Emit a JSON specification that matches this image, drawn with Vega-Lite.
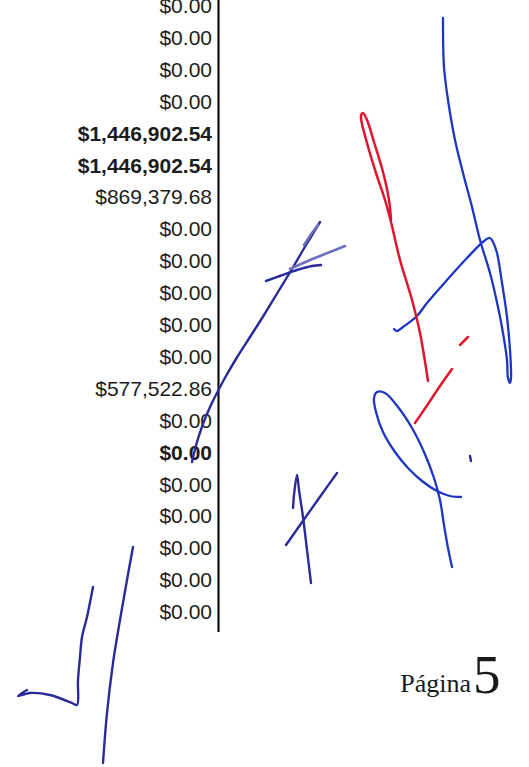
{
  "$schema": "https://vega.github.io/schema/vega-lite/v6.json",
  "width": 529,
  "height": 767,
  "padding": 0,
  "autosize": {"type": "none"},
  "background": "white",
  "config": {"view": {"stroke": null}},
  "datasets": {
    "rows": [
      {"row": 0, "label": "$0.00", "bold": false},
      {"row": 1, "label": "$0.00", "bold": false},
      {"row": 2, "label": "$0.00", "bold": false},
      {"row": 3, "label": "$0.00", "bold": false},
      {"row": 4, "label": "$1,446,902.54", "bold": true},
      {"row": 5, "label": "$1,446,902.54", "bold": true},
      {"row": 6, "label": "$869,379.68", "bold": false},
      {"row": 7, "label": "$0.00", "bold": false},
      {"row": 8, "label": "$0.00", "bold": false},
      {"row": 9, "label": "$0.00", "bold": false},
      {"row": 10, "label": "$0.00", "bold": false},
      {"row": 11, "label": "$0.00", "bold": false},
      {"row": 12, "label": "$577,522.86", "bold": false},
      {"row": 13, "label": "$0.00", "bold": false},
      {"row": 14, "label": "$0.00", "bold": true},
      {"row": 15, "label": "$0.00", "bold": false},
      {"row": 16, "label": "$0.00", "bold": false},
      {"row": 17, "label": "$0.00", "bold": false},
      {"row": 18, "label": "$0.00", "bold": false},
      {"row": 19, "label": "$0.00", "bold": false}
    ],
    "ink": [
      {"s": "A", "ink": "blue", "i": 0, "x": 443, "y": 18},
      {"s": "A", "ink": "blue", "i": 1, "x": 444, "y": 67},
      {"s": "A", "ink": "blue", "i": 2, "x": 448, "y": 100},
      {"s": "A", "ink": "blue", "i": 3, "x": 455, "y": 140},
      {"s": "A", "ink": "blue", "i": 4, "x": 463, "y": 173},
      {"s": "A", "ink": "blue", "i": 5, "x": 472, "y": 207},
      {"s": "A", "ink": "blue", "i": 6, "x": 480, "y": 240},
      {"s": "A", "ink": "blue", "i": 7, "x": 490, "y": 273},
      {"s": "A", "ink": "blue", "i": 8, "x": 498, "y": 307},
      {"s": "A", "ink": "blue", "i": 9, "x": 503, "y": 333},
      {"s": "A", "ink": "blue", "i": 10, "x": 507, "y": 360},
      {"s": "A", "ink": "blue", "i": 11, "x": 508, "y": 378},
      {"s": "A", "ink": "blue", "i": 12, "x": 510, "y": 383},
      {"s": "A", "ink": "blue", "i": 13, "x": 511, "y": 378},
      {"s": "A", "ink": "blue", "i": 14, "x": 510, "y": 350},
      {"s": "A", "ink": "blue", "i": 15, "x": 507, "y": 317},
      {"s": "A", "ink": "blue", "i": 16, "x": 502, "y": 283},
      {"s": "A", "ink": "blue", "i": 17, "x": 497, "y": 253},
      {"s": "A", "ink": "blue", "i": 18, "x": 493, "y": 242},
      {"s": "A", "ink": "blue", "i": 19, "x": 490, "y": 238},
      {"s": "A", "ink": "blue", "i": 20, "x": 484, "y": 241},
      {"s": "A", "ink": "blue", "i": 21, "x": 467, "y": 258},
      {"s": "A", "ink": "blue", "i": 22, "x": 447, "y": 280},
      {"s": "A", "ink": "blue", "i": 23, "x": 427, "y": 303},
      {"s": "A", "ink": "blue", "i": 24, "x": 417, "y": 316},
      {"s": "A", "ink": "blue", "i": 25, "x": 403, "y": 327},
      {"s": "A", "ink": "blue", "i": 26, "x": 397, "y": 331},
      {"s": "A", "ink": "blue", "i": 27, "x": 394, "y": 329},

      {"s": "R1", "ink": "red", "i": 0, "x": 428, "y": 381},
      {"s": "R1", "ink": "red", "i": 1, "x": 420, "y": 333},
      {"s": "R1", "ink": "red", "i": 2, "x": 412, "y": 300},
      {"s": "R1", "ink": "red", "i": 3, "x": 400, "y": 260},
      {"s": "R1", "ink": "red", "i": 4, "x": 391, "y": 222},
      {"s": "R1", "ink": "red", "i": 5, "x": 385, "y": 200},
      {"s": "R1", "ink": "red", "i": 6, "x": 376, "y": 173},
      {"s": "R1", "ink": "red", "i": 7, "x": 367, "y": 143},
      {"s": "R1", "ink": "red", "i": 8, "x": 361, "y": 116},
      {"s": "R1", "ink": "red", "i": 9, "x": 363, "y": 113},
      {"s": "R1", "ink": "red", "i": 10, "x": 367, "y": 120},
      {"s": "R1", "ink": "red", "i": 11, "x": 374, "y": 142},
      {"s": "R1", "ink": "red", "i": 12, "x": 383, "y": 172},
      {"s": "R1", "ink": "red", "i": 13, "x": 389, "y": 200},
      {"s": "R1", "ink": "red", "i": 14, "x": 391, "y": 220},

      {"s": "R2", "ink": "red", "i": 0, "x": 460, "y": 345},
      {"s": "R2", "ink": "red", "i": 1, "x": 468, "y": 337},

      {"s": "R3", "ink": "red", "i": 0, "x": 452, "y": 369},
      {"s": "R3", "ink": "red", "i": 1, "x": 440, "y": 386},
      {"s": "R3", "ink": "red", "i": 2, "x": 428, "y": 404},
      {"s": "R3", "ink": "red", "i": 3, "x": 415, "y": 423},

      {"s": "B", "ink": "blue", "i": 0, "x": 461, "y": 497},
      {"s": "B", "ink": "blue", "i": 1, "x": 450, "y": 496},
      {"s": "B", "ink": "blue", "i": 2, "x": 437, "y": 491},
      {"s": "B", "ink": "blue", "i": 3, "x": 422, "y": 481},
      {"s": "B", "ink": "blue", "i": 4, "x": 408, "y": 468},
      {"s": "B", "ink": "blue", "i": 5, "x": 395, "y": 452},
      {"s": "B", "ink": "blue", "i": 6, "x": 383, "y": 432},
      {"s": "B", "ink": "blue", "i": 7, "x": 376, "y": 412},
      {"s": "B", "ink": "blue", "i": 8, "x": 374, "y": 398},
      {"s": "B", "ink": "blue", "i": 9, "x": 377, "y": 392},
      {"s": "B", "ink": "blue", "i": 10, "x": 385, "y": 393},
      {"s": "B", "ink": "blue", "i": 11, "x": 398, "y": 407},
      {"s": "B", "ink": "blue", "i": 12, "x": 412, "y": 428},
      {"s": "B", "ink": "blue", "i": 13, "x": 424, "y": 452},
      {"s": "B", "ink": "blue", "i": 14, "x": 434, "y": 478},
      {"s": "B", "ink": "blue", "i": 15, "x": 440, "y": 500},
      {"s": "B", "ink": "blue", "i": 16, "x": 444, "y": 525},
      {"s": "B", "ink": "blue", "i": 17, "x": 448, "y": 548},
      {"s": "B", "ink": "blue", "i": 18, "x": 452, "y": 567},

      {"s": "D", "ink": "navy", "i": 0, "x": 470, "y": 456},
      {"s": "D", "ink": "navy", "i": 1, "x": 471, "y": 461},

      {"s": "N1", "ink": "navy", "i": 0, "x": 320, "y": 222},
      {"s": "N1", "ink": "navy", "i": 1, "x": 306, "y": 245},
      {"s": "N1", "ink": "navy", "i": 2, "x": 292, "y": 269},
      {"s": "N1", "ink": "navy", "i": 3, "x": 278, "y": 292},
      {"s": "N1", "ink": "navy", "i": 4, "x": 264, "y": 315},
      {"s": "N1", "ink": "navy", "i": 5, "x": 250, "y": 337},
      {"s": "N1", "ink": "navy", "i": 6, "x": 236, "y": 359},
      {"s": "N1", "ink": "navy", "i": 7, "x": 226, "y": 376},
      {"s": "N1", "ink": "navy", "i": 8, "x": 218, "y": 391},
      {"s": "N1", "ink": "navy", "i": 9, "x": 210, "y": 407},
      {"s": "N1", "ink": "navy", "i": 10, "x": 203, "y": 424},
      {"s": "N1", "ink": "navy", "i": 11, "x": 197, "y": 442},
      {"s": "N1", "ink": "navy", "i": 12, "x": 192, "y": 462},

      {"s": "N2", "ink": "faint", "i": 0, "x": 304, "y": 245},
      {"s": "N2", "ink": "faint", "i": 1, "x": 312, "y": 233},
      {"s": "N2", "ink": "faint", "i": 2, "x": 318, "y": 225},

      {"s": "N3", "ink": "navy", "i": 0, "x": 266, "y": 281},
      {"s": "N3", "ink": "navy", "i": 1, "x": 280, "y": 276},
      {"s": "N3", "ink": "navy", "i": 2, "x": 297, "y": 270},
      {"s": "N3", "ink": "navy", "i": 3, "x": 312, "y": 266},
      {"s": "N3", "ink": "navy", "i": 4, "x": 321, "y": 265},

      {"s": "N4", "ink": "faint", "i": 0, "x": 290, "y": 269},
      {"s": "N4", "ink": "faint", "i": 1, "x": 310, "y": 260},
      {"s": "N4", "ink": "faint", "i": 2, "x": 330, "y": 252},
      {"s": "N4", "ink": "faint", "i": 3, "x": 345, "y": 246},

      {"s": "F1", "ink": "navy", "i": 0, "x": 293, "y": 508},
      {"s": "F1", "ink": "navy", "i": 1, "x": 294, "y": 495},
      {"s": "F1", "ink": "navy", "i": 2, "x": 297, "y": 475},
      {"s": "F1", "ink": "navy", "i": 3, "x": 299, "y": 490},
      {"s": "F1", "ink": "navy", "i": 4, "x": 303, "y": 517},
      {"s": "F1", "ink": "navy", "i": 5, "x": 307, "y": 550},
      {"s": "F1", "ink": "navy", "i": 6, "x": 311, "y": 583},

      {"s": "F2", "ink": "navy", "i": 0, "x": 286, "y": 545},
      {"s": "F2", "ink": "navy", "i": 1, "x": 305, "y": 518},
      {"s": "F2", "ink": "navy", "i": 2, "x": 322, "y": 494},
      {"s": "F2", "ink": "navy", "i": 3, "x": 337, "y": 473},

      {"s": "C1", "ink": "navy", "i": 0, "x": 93, "y": 587},
      {"s": "C1", "ink": "navy", "i": 1, "x": 87, "y": 617},
      {"s": "C1", "ink": "navy", "i": 2, "x": 82, "y": 637},
      {"s": "C1", "ink": "navy", "i": 3, "x": 80, "y": 657},
      {"s": "C1", "ink": "navy", "i": 4, "x": 78, "y": 680},
      {"s": "C1", "ink": "navy", "i": 5, "x": 77, "y": 705},
      {"s": "C1", "ink": "navy", "i": 6, "x": 72, "y": 703},
      {"s": "C1", "ink": "navy", "i": 7, "x": 50, "y": 695},
      {"s": "C1", "ink": "navy", "i": 8, "x": 30, "y": 693},
      {"s": "C1", "ink": "navy", "i": 9, "x": 18, "y": 696},
      {"s": "C1", "ink": "navy", "i": 10, "x": 27, "y": 690},

      {"s": "C2", "ink": "navy", "i": 0, "x": 133, "y": 547},
      {"s": "C2", "ink": "navy", "i": 1, "x": 127, "y": 580},
      {"s": "C2", "ink": "navy", "i": 2, "x": 120, "y": 620},
      {"s": "C2", "ink": "navy", "i": 3, "x": 113, "y": 663},
      {"s": "C2", "ink": "navy", "i": 4, "x": 107, "y": 713},
      {"s": "C2", "ink": "navy", "i": 5, "x": 103, "y": 763}
    ],
    "footer": [{"word": "Página", "num": "5"}]
  },
  "resolve": {"scale": {"y": "independent"}},
  "layer": [
    {
      "data": {"name": "rows"},
      "transform": [{"filter": "!datum.bold"}],
      "mark": {"type": "text", "align": "right", "baseline": "middle", "font": "Liberation Sans", "fontSize": 21, "color": "#1c1c1c"},
      "encoding": {
        "x": {"datum": 212, "type": "quantitative", "scale": {"domain": [0, 529], "nice": false, "zero": false}, "axis": null},
        "y": {"field": "row", "type": "quantitative", "scale": {"domain": [-0.2194, 23.824], "reverse": true, "nice": false, "zero": false}, "axis": null},
        "text": {"field": "label"}
      }
    },
    {
      "data": {"name": "rows"},
      "transform": [{"filter": "datum.bold"}],
      "mark": {"type": "text", "align": "right", "baseline": "middle", "font": "Liberation Sans", "fontSize": 21, "fontWeight": "bold", "color": "#1c1c1c"},
      "encoding": {
        "x": {"datum": 212, "type": "quantitative", "axis": null},
        "y": {"field": "row", "type": "quantitative", "scale": {"domain": [-0.2194, 23.824], "reverse": true, "nice": false, "zero": false}, "axis": null},
        "text": {"field": "label"}
      }
    },
    {
      "data": {"values": [{"a": 1}]},
      "mark": {"type": "rule", "color": "#111111", "strokeWidth": 2.2},
      "encoding": {
        "x": {"datum": 218.5, "type": "quantitative", "axis": null},
        "y": {"datum": 0, "type": "quantitative", "scale": {"domain": [0, 767], "reverse": true, "nice": false, "zero": false}, "axis": null},
        "y2": {"datum": 632}
      }
    },
    {
      "data": {"name": "ink"},
      "mark": {"type": "line", "interpolate": "catmull-rom", "strokeCap": "round", "strokeJoin": "round"},
      "encoding": {
        "x": {"field": "x", "type": "quantitative", "axis": null},
        "y": {"field": "y", "type": "quantitative", "scale": {"domain": [0, 767], "reverse": true, "nice": false, "zero": false}, "axis": null},
        "detail": {"field": "s"},
        "order": {"field": "i", "type": "quantitative"},
        "color": {"field": "ink", "type": "nominal", "scale": {"domain": ["blue", "navy", "red", "faint"], "range": ["#1d36c4", "#2a2a98", "#e0162e", "#6f6fc0"]}, "legend": null},
        "strokeWidth": {"field": "ink", "type": "nominal", "scale": {"domain": ["blue", "navy", "red", "faint"], "range": [2.3, 2.6, 3.4, 1.6]}, "legend": null}
      }
    },
    {
      "data": {"name": "footer"},
      "mark": {"type": "text", "align": "right", "baseline": "alphabetic", "font": "Liberation Serif", "fontSize": 26, "color": "#1a1a1a"},
      "encoding": {
        "x": {"datum": 471, "type": "quantitative", "axis": null},
        "y": {"datum": 692, "type": "quantitative", "scale": {"domain": [0, 767], "reverse": true, "nice": false, "zero": false}, "axis": null},
        "text": {"field": "word"}
      }
    },
    {
      "data": {"name": "footer"},
      "mark": {"type": "text", "align": "left", "baseline": "alphabetic", "font": "Liberation Serif", "fontSize": 55, "color": "#1a1a1a"},
      "encoding": {
        "x": {"datum": 473, "type": "quantitative", "axis": null},
        "y": {"datum": 693, "type": "quantitative", "scale": {"domain": [0, 767], "reverse": true, "nice": false, "zero": false}, "axis": null},
        "text": {"field": "num"}
      }
    }
  ]
}
